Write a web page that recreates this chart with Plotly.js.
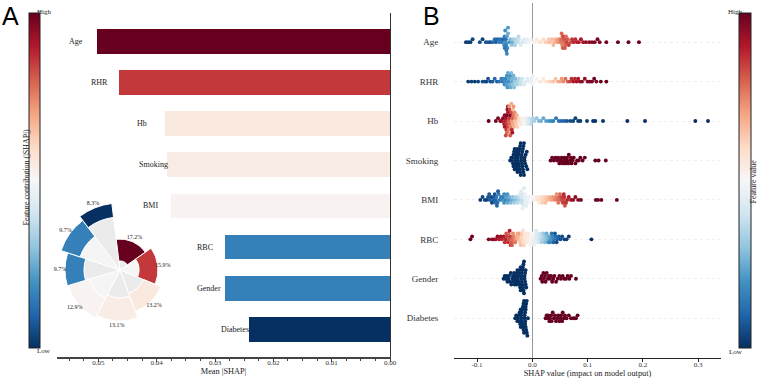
<!DOCTYPE html>
<html><head><meta charset="utf-8">
<script src="https://cdn.plot.ly/plotly-3.0.1.min.js"></script>
<style>html,body{margin:0;padding:0;background:#fff}#chart{width:767px;height:383px}</style>
</head><body><div id="chart"></div>
<script>
// ---------------- DATA ----------------
const features = ['Age','RHR','Hb','Smoking','BMI','RBC','Gender','Diabetes'];
const meanAbsShap = [0.0502,0.0464,0.0385,0.0382,0.0376,0.0283,0.0283,0.0242];
const sharePct = [17.2,15.9,13.2,13.1,12.9,9.7,9.7,8.3];
const xTicksA = [0,0.01,0.02,0.03,0.04,0.05];
const xTickTextA = ['0.00','0.01','0.02','0.03','0.04','0.05'];
const xTicksB = [-0.1,0,0.1,0.2,0.3];
const xTickTextB = ['-0.1','0.0','0.1','0.2','0.3'];

// beeswarm: SHAP values and normalised feature values per feature
const ageShap = [-0.120,-0.116,-0.112,-0.108,-0.095,-0.090,-0.084,-0.080,-0.076,-0.072,-0.068,-0.066,-0.063,-0.060,-0.058,-0.055,-0.053,-0.051,-0.050,-0.049,-0.048,-0.047,-0.046,-0.045,-0.044,-0.042,-0.040,-0.038,-0.036,-0.034,-0.032,-0.030,-0.028,-0.026,-0.024,-0.021,-0.018,-0.015,-0.012,-0.009,-0.006,-0.003,0.001,0.004,0.008,0.012,0.016,0.020,0.024,0.028,0.032,0.036,0.040,0.043,0.046,0.049,0.051,0.053,0.054,0.055,0.056,0.058,0.060,0.062,0.064,0.066,0.069,0.072,0.075,0.078,0.081,0.084,0.088,0.092,0.097,0.103,0.108,0.113,0.118,0.122,0.134,0.155,0.174,0.193,-0.047,-0.049,0.057,0.055,-0.050,-0.046,-0.044,0.053,0.059,0.061,-0.031,-0.025,0.030,0.038];
const ageVal  = [0.02,0.03,0.02,0.04,0.05,0.03,0.06,0.08,0.05,0.10,0.12,0.08,0.10,0.15,0.12,0.14,0.10,0.18,0.15,0.20,0.12,0.16,0.22,0.18,0.25,0.20,0.28,0.30,0.26,0.33,0.30,0.36,0.35,0.38,0.40,0.42,0.41,0.44,0.45,0.46,0.48,0.49,0.50,0.52,0.55,0.56,0.58,0.60,0.62,0.63,0.65,0.66,0.68,0.70,0.72,0.74,0.76,0.78,0.75,0.80,0.77,0.82,0.79,0.84,0.81,0.85,0.83,0.86,0.88,0.87,0.89,0.90,0.91,0.92,0.94,0.95,0.96,0.97,0.98,0.97,0.99,1.0,1.0,1.0,0.14,0.19,0.83,0.80,0.13,0.17,0.21,0.79,0.81,0.78,0.34,0.37,0.64,0.67];

const rhrShap = [-0.116,-0.110,-0.104,-0.098,-0.090,-0.086,-0.083,-0.080,-0.076,-0.072,-0.068,-0.064,-0.060,-0.056,-0.054,-0.052,-0.050,-0.049,-0.048,-0.047,-0.046,-0.045,-0.044,-0.043,-0.042,-0.041,-0.040,-0.039,-0.038,-0.037,-0.036,-0.035,-0.034,-0.033,-0.031,-0.030,-0.028,-0.026,-0.024,-0.022,-0.020,-0.018,-0.015,-0.012,-0.009,-0.006,-0.004,-0.002,-0.001,0.000,0.001,0.004,0.008,0.012,0.016,0.020,0.025,0.030,0.034,0.038,0.042,0.046,0.050,0.053,0.056,0.060,0.064,0.068,0.071,0.074,0.077,0.080,0.083,0.086,0.090,0.095,0.100,0.104,0.108,0.112,0.116,0.124,0.134];
const rhrVal  = [0.02,0.03,0.02,0.04,0.05,0.06,0.04,0.07,0.05,0.08,0.10,0.09,0.12,0.15,0.14,0.18,0.16,0.20,0.17,0.22,0.19,0.21,0.24,0.18,0.23,0.26,0.20,0.25,0.28,0.24,0.27,0.30,0.26,0.29,0.32,0.28,0.33,0.35,0.36,0.38,0.39,0.40,0.42,0.43,0.44,0.45,0.46,0.47,0.46,0.48,0.47,0.50,0.52,0.53,0.55,0.56,0.58,0.60,0.62,0.64,0.65,0.67,0.70,0.72,0.74,0.78,0.80,0.84,0.87,0.90,0.88,0.92,0.91,0.93,0.95,0.94,0.96,0.97,0.98,0.99,0.97,1.0,1.0];

const hbShap = [-0.079,-0.066,-0.062,-0.058,-0.055,-0.053,-0.051,-0.050,-0.049,-0.048,-0.047,-0.046,-0.045,-0.044,-0.043,-0.042,-0.041,-0.040,-0.039,-0.038,-0.037,-0.036,-0.035,-0.034,-0.033,-0.032,-0.031,-0.030,-0.029,-0.028,-0.027,-0.025,-0.023,-0.021,-0.019,-0.017,-0.015,-0.013,-0.011,-0.009,-0.007,-0.005,-0.003,-0.001,0.001,0.004,0.008,0.012,0.016,0.020,0.025,0.030,0.034,0.038,0.043,0.048,0.053,0.058,0.063,0.069,0.074,0.078,0.083,0.087,0.099,0.110,0.114,0.128,0.172,0.204,0.295,0.318,-0.050,-0.047,-0.045,-0.043,-0.041,-0.039,-0.037,-0.035,-0.046,-0.044,-0.042,-0.040,-0.038,-0.036,-0.034,-0.048];
const hbVal  = [1.0,0.98,0.97,0.95,0.93,0.96,0.90,0.94,0.88,0.92,0.85,0.97,0.82,0.90,0.80,0.86,0.78,0.95,0.75,0.83,0.72,0.80,0.70,0.77,0.68,0.74,0.66,0.71,0.64,0.68,0.62,0.60,0.58,0.56,0.54,0.52,0.50,0.48,0.46,0.44,0.42,0.40,0.38,0.36,0.35,0.33,0.30,0.28,0.26,0.24,0.22,0.20,0.18,0.16,0.14,0.12,0.10,0.09,0.07,0.05,0.04,0.03,0.03,0.02,0.02,0.01,0.01,0.01,0.0,0.0,0.0,0.0,0.91,0.87,0.93,0.76,0.84,0.70,0.88,0.66,0.79,0.99,0.73,0.81,0.69,0.92,0.72,0.83];

const smokingNoShap = [-0.040,-0.038,-0.037,-0.036,-0.035,-0.034,-0.034,-0.033,-0.032,-0.032,-0.031,-0.030,-0.030,-0.029,-0.029,-0.028,-0.028,-0.027,-0.027,-0.026,-0.026,-0.025,-0.025,-0.024,-0.024,-0.023,-0.023,-0.022,-0.022,-0.021,-0.021,-0.020,-0.020,-0.019,-0.019,-0.018,-0.018,-0.017,-0.017,-0.016,-0.016,-0.015,-0.015,-0.014,-0.014,-0.013,-0.012,-0.011,-0.010,-0.009];
const smokingYesShap = [0.033,0.036,0.039,0.042,0.045,0.047,0.049,0.051,0.053,0.055,0.057,0.058,0.060,0.062,0.063,0.065,0.066,0.068,0.070,0.071,0.073,0.075,0.078,0.081,0.084,0.087,0.091,0.095,0.114,0.120,0.133];

const bmiShap = [-0.094,-0.090,-0.086,-0.083,-0.080,-0.077,-0.074,-0.071,-0.069,-0.067,-0.066,-0.065,-0.063,-0.061,-0.059,-0.057,-0.055,-0.053,-0.051,-0.049,-0.047,-0.045,-0.043,-0.041,-0.039,-0.037,-0.035,-0.033,-0.031,-0.029,-0.027,-0.025,-0.023,-0.021,-0.020,-0.019,-0.018,-0.017,-0.016,-0.014,-0.012,-0.010,-0.008,-0.006,-0.004,-0.002,0.001,0.004,0.007,0.010,0.013,0.016,0.019,0.022,0.025,0.028,0.031,0.034,0.037,0.040,0.043,0.046,0.049,0.052,0.054,0.056,0.058,0.060,0.063,0.066,0.070,0.074,0.078,0.083,0.088,0.115,0.119,0.125,0.153,-0.068,-0.064,-0.062,-0.022,-0.020,-0.018,-0.015,-0.013,-0.011,0.055,0.057,0.059,0.061,0.050,0.047,0.044,-0.045,-0.051,-0.073,-0.078,0.012,0.018,0.024];
const bmiVal  = [0.02,0.04,0.05,0.03,0.06,0.08,0.05,0.10,0.07,0.12,0.09,0.14,0.11,0.15,0.13,0.16,0.18,0.15,0.20,0.17,0.22,0.24,0.21,0.26,0.28,0.25,0.30,0.32,0.29,0.34,0.36,0.33,0.38,0.40,0.37,0.42,0.39,0.41,0.43,0.44,0.45,0.46,0.47,0.48,0.49,0.50,0.51,0.53,0.55,0.57,0.58,0.60,0.61,0.63,0.64,0.66,0.68,0.70,0.72,0.74,0.76,0.78,0.80,0.82,0.85,0.83,0.87,0.86,0.89,0.91,0.92,0.94,0.95,0.96,0.98,1.0,0.99,1.0,1.0,0.06,0.10,0.08,0.42,0.44,0.46,0.43,0.47,0.45,0.84,0.88,0.81,0.86,0.79,0.77,0.73,0.20,0.17,0.04,0.07,0.56,0.62,0.65];

const rbcShap = [-0.112,-0.109,-0.079,-0.073,-0.069,-0.066,-0.063,-0.060,-0.057,-0.055,-0.052,-0.050,-0.048,-0.046,-0.044,-0.042,-0.040,-0.038,-0.036,-0.034,-0.032,-0.030,-0.028,-0.026,-0.024,-0.022,-0.020,-0.018,-0.016,-0.014,-0.012,-0.010,-0.008,-0.006,-0.004,-0.002,0.000,0.002,0.004,0.006,0.009,0.012,0.015,0.018,0.021,0.024,0.027,0.030,0.033,0.036,0.039,0.042,0.045,0.048,0.051,0.054,0.058,0.062,0.066,0.107,-0.047,-0.043,-0.039,-0.035,-0.031,-0.027,-0.023,-0.019,-0.015,-0.011,-0.007,-0.003,0.001,0.005,0.008,0.011,0.014,0.017,0.020,0.023,0.026,0.029,0.032,0.035,0.038,0.041,0.044,-0.021,-0.017,0.003,0.007,-0.041,-0.037];
const rbcVal  = [1.0,0.99,0.97,0.95,0.96,0.92,0.94,0.90,0.93,0.88,0.91,0.86,0.89,0.84,0.87,0.82,0.85,0.80,0.78,0.76,0.74,0.72,0.70,0.68,0.66,0.64,0.62,0.60,0.58,0.57,0.56,0.55,0.54,0.53,0.52,0.51,0.50,0.48,0.46,0.44,0.42,0.40,0.37,0.35,0.32,0.30,0.27,0.24,0.21,0.18,0.15,0.12,0.10,0.08,0.06,0.05,0.04,0.03,0.02,0.0,0.83,0.79,0.86,0.74,0.77,0.69,0.71,0.63,0.61,0.57,0.55,0.52,0.49,0.45,0.43,0.41,0.38,0.33,0.31,0.28,0.25,0.20,0.17,0.13,0.09,0.07,0.05,0.65,0.59,0.47,0.42,0.90,0.81];

const genderLowShap = [-0.052,-0.050,-0.048,-0.046,-0.045,-0.043,-0.042,-0.040,-0.039,-0.038,-0.036,-0.035,-0.034,-0.033,-0.032,-0.031,-0.030,-0.029,-0.028,-0.028,-0.027,-0.026,-0.025,-0.025,-0.024,-0.023,-0.023,-0.022,-0.021,-0.021,-0.020,-0.020,-0.019,-0.019,-0.018,-0.018,-0.017,-0.017,-0.016,-0.016,-0.015,-0.015,-0.014,-0.014,-0.013,-0.013,-0.012,-0.012,-0.011];
const genderHighShap = [0.015,0.017,0.018,0.020,0.021,0.023,0.024,0.026,0.028,0.030,0.032,0.034,0.036,0.038,0.040,0.043,0.046,0.049,0.052,0.055,0.058,0.061,0.064,0.067,0.070,0.079];

const diabetesNoShap = [-0.031,-0.029,-0.027,-0.026,-0.025,-0.024,-0.023,-0.022,-0.021,-0.021,-0.020,-0.020,-0.019,-0.019,-0.018,-0.018,-0.017,-0.017,-0.016,-0.016,-0.015,-0.015,-0.014,-0.014,-0.013,-0.013,-0.013,-0.012,-0.012,-0.012,-0.011,-0.011,-0.010,-0.010,-0.009,-0.008];
const diabetesYesShap = [0.024,0.026,0.028,0.029,0.031,0.032,0.034,0.035,0.037,0.039,0.041,0.043,0.045,0.047,0.049,0.051,0.052,0.054,0.055,0.057,0.059,0.062,0.066,0.070,0.075,0.079,0.082];

// ---------------- HELPERS ----------------
const W = 767, H = 383;
const px = p => p / W, py = p => 1 - p / H;
const serif = 'Liberation Serif, Times New Roman, serif';
const rdbu = [[0,'#053061'],[0.1,'#2166ac'],[0.2,'#4393c3'],[0.3,'#92c5de'],[0.4,'#d1e5f0'],[0.5,'#f7f7f7'],[0.6,'#fddbc7'],[0.7,'#f4a582'],[0.8,'#d6604d'],[0.9,'#b2182b'],[1,'#67001f']];
const nF = features.length;
const rowOf = i => nF - 1 - i;

// panel B geometry (pixels)
const bX0 = 454, bX1 = 721, bY0 = 2.7, bY1 = 357.7;
const bRange = [-0.1417, 0.3415];
const pxPerX = (bX1 - bX0) / (bRange[1] - bRange[0]);
const pxPerRow = (bY1 - bY0) / 9;

function swarm(xs, row) {
  const binW = 3.2, step = 2.9;
  const bins = {};
  xs.forEach((x, i) => { const b = Math.round(x * pxPerX / binW); (bins[b] = bins[b] || []).push(i); });
  const ys = new Array(xs.length);
  Object.values(bins).forEach(list => {
    list.forEach((i, k) => {
      const layer = Math.ceil(k / 2) * (k % 2 === 1 ? 1 : -1);
      ys[i] = row + layer * step / pxPerRow;
    });
  });
  return ys;
}

const groups = [
  [ageShap, ageVal, 0], [rhrShap, rhrVal, 1], [hbShap, hbVal, 2],
  [smokingNoShap.concat(smokingYesShap), smokingNoShap.map(() => 0).concat(smokingYesShap.map(() => 1)), 3],
  [bmiShap, bmiVal, 4], [rbcShap, rbcVal, 5],
  [genderLowShap.concat(genderHighShap), genderLowShap.map(() => 0).concat(genderHighShap.map(() => 1)), 6],
  [diabetesNoShap.concat(diabetesYesShap), diabetesNoShap.map(() => 0).concat(diabetesYesShap.map(() => 1)), 7]
];
let bx = [], by = [], bc = [];
groups.forEach(([xs, vs, fi]) => {
  const ys = swarm(xs, rowOf(fi));
  bx = bx.concat(xs); by = by.concat(ys); bc = bc.concat(vs);
});

const vMin = Math.min(...meanAbsShap), vMax = Math.max(...meanAbsShap);

// polar inset geometry
const polCx = 120, polCy = 270, polR = 82;
const startDeg = -7;
let cum = 0;
const thetaMid = [], widthDeg = [];
sharePct.forEach(p => { const w = p * 3.6; thetaMid.push(startDeg + cum + w / 2); widthDeg.push(w); cum += w; });
const ringInner = [9, 19, 25, 28, 32, 36, 42, 53];
const ringOuter = [31, 38, 44, 51, 54, 55, 62, 67];
const ringBand = ringOuter.map((r, i) => r - ringInner[i]);
const grayFill = ['#ebebeb','#f5f5f5','#ebebeb','#ebebeb','#f5f5f5','#ebebeb','#f5f5f5','#ebebeb'];

const traces = [
  { type: 'bar', orientation: 'h', x: meanAbsShap, y: features.map((f, i) => rowOf(i)), width: 0.6,
    xaxis: 'x', yaxis: 'y', hoverinfo: 'skip',
    marker: { color: meanAbsShap, cmin: vMin, cmax: vMax, colorscale: rdbu, showscale: true,
      colorbar: { x: px(29), xanchor: 'left', y: py(13), yanchor: 'top', len: 335, lenmode: 'pixels',
        thickness: 11, thicknessmode: 'pixels', xpad: 0, ypad: 0, outlinewidth: 1, outlinecolor: '#222',
        showticklabels: false, ticks: '' } } },
  { type: 'scatter', mode: 'markers', x: bx, y: by, xaxis: 'x2', yaxis: 'y2', hoverinfo: 'skip',
    marker: { size: 3.9, color: bc, cmin: 0, cmax: 1, colorscale: rdbu, line: { width: 0 }, showscale: true,
      colorbar: { x: px(739), xanchor: 'left', y: py(13), yanchor: 'top', len: 335, lenmode: 'pixels',
        thickness: 12, thicknessmode: 'pixels', xpad: 0, ypad: 0, outlinewidth: 1, outlinecolor: '#222',
        showticklabels: false, ticks: '' } } },
  { type: 'barpolar', r: ringInner, theta: thetaMid, width: widthDeg, subplot: 'polar', hoverinfo: 'skip',
    marker: { color: grayFill, line: { color: '#ffffff', width: 1 } } },
  { type: 'barpolar', r: ringBand, theta: thetaMid, width: widthDeg, subplot: 'polar', hoverinfo: 'skip',
    marker: { color: meanAbsShap, cmin: vMin, cmax: vMax, colorscale: rdbu, line: { color: '#ffffff', width: 1 } } },
  { type: 'scatterpolar', mode: 'text', r: ringOuter.map(r => r + 5), theta: thetaMid,
    text: sharePct.map(p => p.toFixed(1) + '%'), subplot: 'polar', hoverinfo: 'skip',
    textfont: { family: serif, size: 6, color: '#222' } }
];

const annotations = [];
features.forEach((f, i) => annotations.push({ xref: 'x', yref: 'y', x: meanAbsShap[i], y: rowOf(i), text: f,
  xanchor: 'left', xshift: -30, showarrow: false, font: { family: serif, size: 8, color: '#222' } }));
const paperText = (x, y, text, size, opts) => Object.assign({ xref: 'paper', yref: 'paper', x: px(x), y: py(y), text,
  showarrow: false, font: { family: serif, size, color: '#222' } }, opts || {});
annotations.push(paperText(34.5, 6, 'High', 7));
annotations.push(paperText(34.5, 357, 'Low', 7));
annotations.push(paperText(19, 178, 'Feature contribution (|SHAP|)', 8, { textangle: -90 }));
annotations.push(paperText(745, 6, 'High', 7));
annotations.push(paperText(745, 358, 'Low', 7));
annotations.push(paperText(760, 182, 'Feature value', 8, { textangle: -90 }));
annotations.push({ xref: 'paper', yref: 'paper', x: px(0), y: py(0), xanchor: 'left', yanchor: 'top', text: 'A',
  showarrow: false, font: { family: 'Liberation Sans, Arial, sans-serif', size: 25, color: '#000' } });
annotations.push({ xref: 'paper', yref: 'paper', x: px(421), y: py(0), xanchor: 'left', yanchor: 'top', text: 'B',
  showarrow: false, font: { family: 'Liberation Sans, Arial, sans-serif', size: 25, color: '#000' } });

const layout = {
  width: W, height: H, margin: { l: 0, r: 0, t: 0, b: 0 }, paper_bgcolor: '#fff', plot_bgcolor: 'rgba(0,0,0,0)',
  showlegend: false, bargap: 0,
  xaxis: { domain: [px(57), px(390)], range: [0.0571, 0], tickvals: xTicksA, ticktext: xTickTextA,
    ticks: 'outside', ticklen: 3, tickcolor: '#444', showline: true, linecolor: '#444', linewidth: 1.5,
    ticklabelstandoff: -5,
    showgrid: false, zeroline: false, tickfont: { family: serif, size: 7, color: '#333' },
    minor: { dtick: 0.0025, tick0: 0, ticks: 'outside', ticklen: 2, tickcolor: '#444', showgrid: false },
    title: { text: 'Mean |SHAP|', font: { family: serif, size: 8.3, color: '#222' }, standoff: 0 } },
  yaxis: { domain: [py(357), py(13)], range: [-0.668, 7.685], side: 'right', showline: true, linecolor: '#333',
    linewidth: 1.2, showgrid: false, zeroline: false, showticklabels: false, ticks: '' },
  xaxis2: { domain: [px(bX0), px(bX1)], range: bRange, anchor: 'y2', tickvals: xTicksB, ticktext: xTickTextB,
    ticks: 'outside', ticklen: 3, tickcolor: '#222', showline: true, linecolor: '#222', linewidth: 1.5,
    ticklabelstandoff: -4,
    showgrid: false, zeroline: true, zerolinecolor: '#9a9a9a', zerolinewidth: 1.3,
    tickfont: { family: serif, size: 7, color: '#333' },
    title: { text: 'SHAP value (impact on model output)', font: { family: serif, size: 8.3, color: '#222' }, standoff: 1 } },
  yaxis2: { domain: [py(bY1), py(bY0)], range: [-1, 8], anchor: 'x2', tickvals: features.map((f, i) => rowOf(i)),
    ticktext: features, ticks: 'outside', ticklen: 13, tickcolor: 'rgba(0,0,0,0)', showline: false,
    showgrid: true, gridcolor: '#efefef', griddash: 'dot', gridwidth: 1, zeroline: false,
    tickfont: { family: serif, size: 9, color: '#333' } },
  polar: { domain: { x: [px(polCx - polR), px(polCx + polR)], y: [py(polCy + polR), py(polCy - polR)] },
    bgcolor: 'rgba(0,0,0,0)', barmode: 'stack',
    radialaxis: { visible: false, range: [0, polR] },
    angularaxis: { visible: false, rotation: 90, direction: 'clockwise' } },
  annotations
};
Plotly.newPlot('chart', traces, layout, { displayModeBar: false, staticPlot: true });
</script></body></html>
